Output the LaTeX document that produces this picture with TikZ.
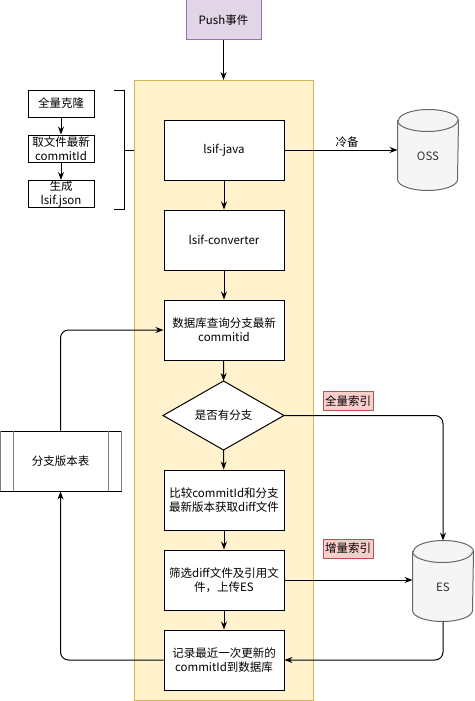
\documentclass[tikz,border=0pt]{standalone}
\usepackage{fontspec}
\setmainfont{Noto Sans CJK SC}
\usetikzlibrary{arrows.meta}
\definecolor{pushfill}{HTML}{E1D5E7}
\definecolor{pushdraw}{HTML}{9673A6}
\definecolor{contfill}{HTML}{FFF2CC}
\definecolor{contdraw}{HTML}{D6B656}
\definecolor{redfill}{HTML}{F8CECC}
\definecolor{reddraw}{HTML}{B85450}
\definecolor{cylfill}{HTML}{F5F5F5}
\definecolor{cyldraw}{HTML}{666666}
\definecolor{cyltext}{HTML}{333333}
\definecolor{greyline}{HTML}{808080}
\begin{document}
\begin{tikzpicture}[x=1pt,y=-1pt,line width=1pt,
  every node/.style={font=\fontsize{11.5}{14}\selectfont, inner sep=0pt, align=center},
  box/.style={draw=black, fill=white, minimum width=120pt, minimum height=60pt},
  smallbox/.style={draw=black, fill=white, minimum width=66pt, minimum height=27pt},
  tagbox/.style={draw=reddraw, fill=redfill, minimum width=50pt, minimum height=19pt},
  cylnode/.style={minimum width=60pt, minimum height=80pt},
  arr/.style={-{Stealth[length=8pt,width=6pt]}, black},
  plain/.style={black}]
\useasboundingbox (0,0) rectangle (474,701);
% container
\node[draw=contdraw, fill=contfill, minimum width=179pt, minimum height=620pt, anchor=north west] (cont) at (134,80) {};
% push
\node[draw=pushdraw, fill=pushfill, minimum width=75pt, minimum height=40pt] (push) at (223.5,20) {Push事件};
% main column
\node[box] (java) at (224,150) {lsif-java};
\node[box] (conv) at (224,240) {lsif-converter};
\node[box] (db) at (224,330) {数据库查询分支最新\\commitid};
\path[draw=black, fill=white] (163,415.5) -- (223.5,381) -- (284,415.5) -- (223.5,450) -- cycle;
\node (diat) at (223.5,415.5) {是否有分支};
\coordinate (diaE) at (284,415.5);
\coordinate (diaN) at (223.5,381);
\coordinate (diaS) at (223.5,450);
\node[box] (cmp) at (224,500) {比较commitId和分支\\最新版本获取diff文件};
\node[box] (flt) at (224,580) {筛选diff文件及引用文\\件，上传ES};
\node[box] (rec) at (224,660) {记录最近一次更新的\\commitId到数据库};
% left steps
\node[smallbox] (clone) at (61,103.5) {全量克隆};
\node[smallbox] (getc) at (61,148.5) {取文件最新\\commitId};
\node[smallbox] (gen) at (61,194) {生成\\lsif.json};
% bracket
\draw[plain] (114,90) -- (124,90) -- (124,209) -- (114,209);
\coordinate (brk) at (124,150);
\draw[plain] (brk) -- (cont.west |- brk);
% table
\node[draw=black, fill=white, minimum width=121pt, minimum height=60pt] (tbl) at (60.5,461) {分支版本表};
\draw[greyline] (13,431) -- (13,491) (108,431) -- (108,491);
\draw[greyline] (0.5,431) -- (0.5,491) (121,431) -- (121,491);
% cylinders
\node[cylnode] (oss) at (428,150) {};
\node[cylnode] (es) at (443,581) {};
\foreach \c in {oss,es}{
  \path[draw=cyldraw, fill=cylfill]
    ([yshift=-11pt]\c.north west) -- ([yshift=11pt]\c.south west)
    arc[start angle=180, end angle=360, x radius=30pt, y radius=11pt]
    -- ([yshift=-11pt]\c.north east)
    arc[start angle=0, end angle=180, x radius=30pt, y radius=11pt] -- cycle;
  \draw[cyldraw] ([yshift=-11pt]\c.north west)
    arc[start angle=180, end angle=360, x radius=30pt, y radius=11pt];
}
\node[text=cyltext] (osst) at ([yshift=-6pt]oss.center) {OSS};
\node[text=cyltext] (est) at ([yshift=-6pt]es.center) {ES};
% tags
\node[tagbox] (tagall) at (348,401) {全量索引};
\node[tagbox] (taginc) at (348,548.5) {增量索引};
\node (cold) at (347,142) {冷备};
% arrows
\draw[arr] (push.south) -- (push.south |- cont.north);
\draw[arr] (clone) -- (getc);
\draw[arr] (getc) -- (gen);
\draw[arr] (java) -- (conv);
\draw[arr] (conv) -- (db);
\draw[arr] (db) -- (diaN);
\draw[arr] (diaS) -- (cmp);
\draw[arr] (cmp) -- (flt);
\draw[arr] (flt) -- (rec);
\draw[arr] (java.east) -- (oss.west |- java.east);
\draw[arr, rounded corners=8pt] (diaE) -| (es.north);
\draw[arr] (flt.east) -- (es.west |- flt.east);
\draw[arr, rounded corners=8pt] (es.south) |- (rec.east);
\draw[arr, rounded corners=8pt] (rec.west) -| (tbl.south);
\draw[arr, rounded corners=8pt] (tbl.north) |- (db.west);
\end{tikzpicture}
\end{document}
